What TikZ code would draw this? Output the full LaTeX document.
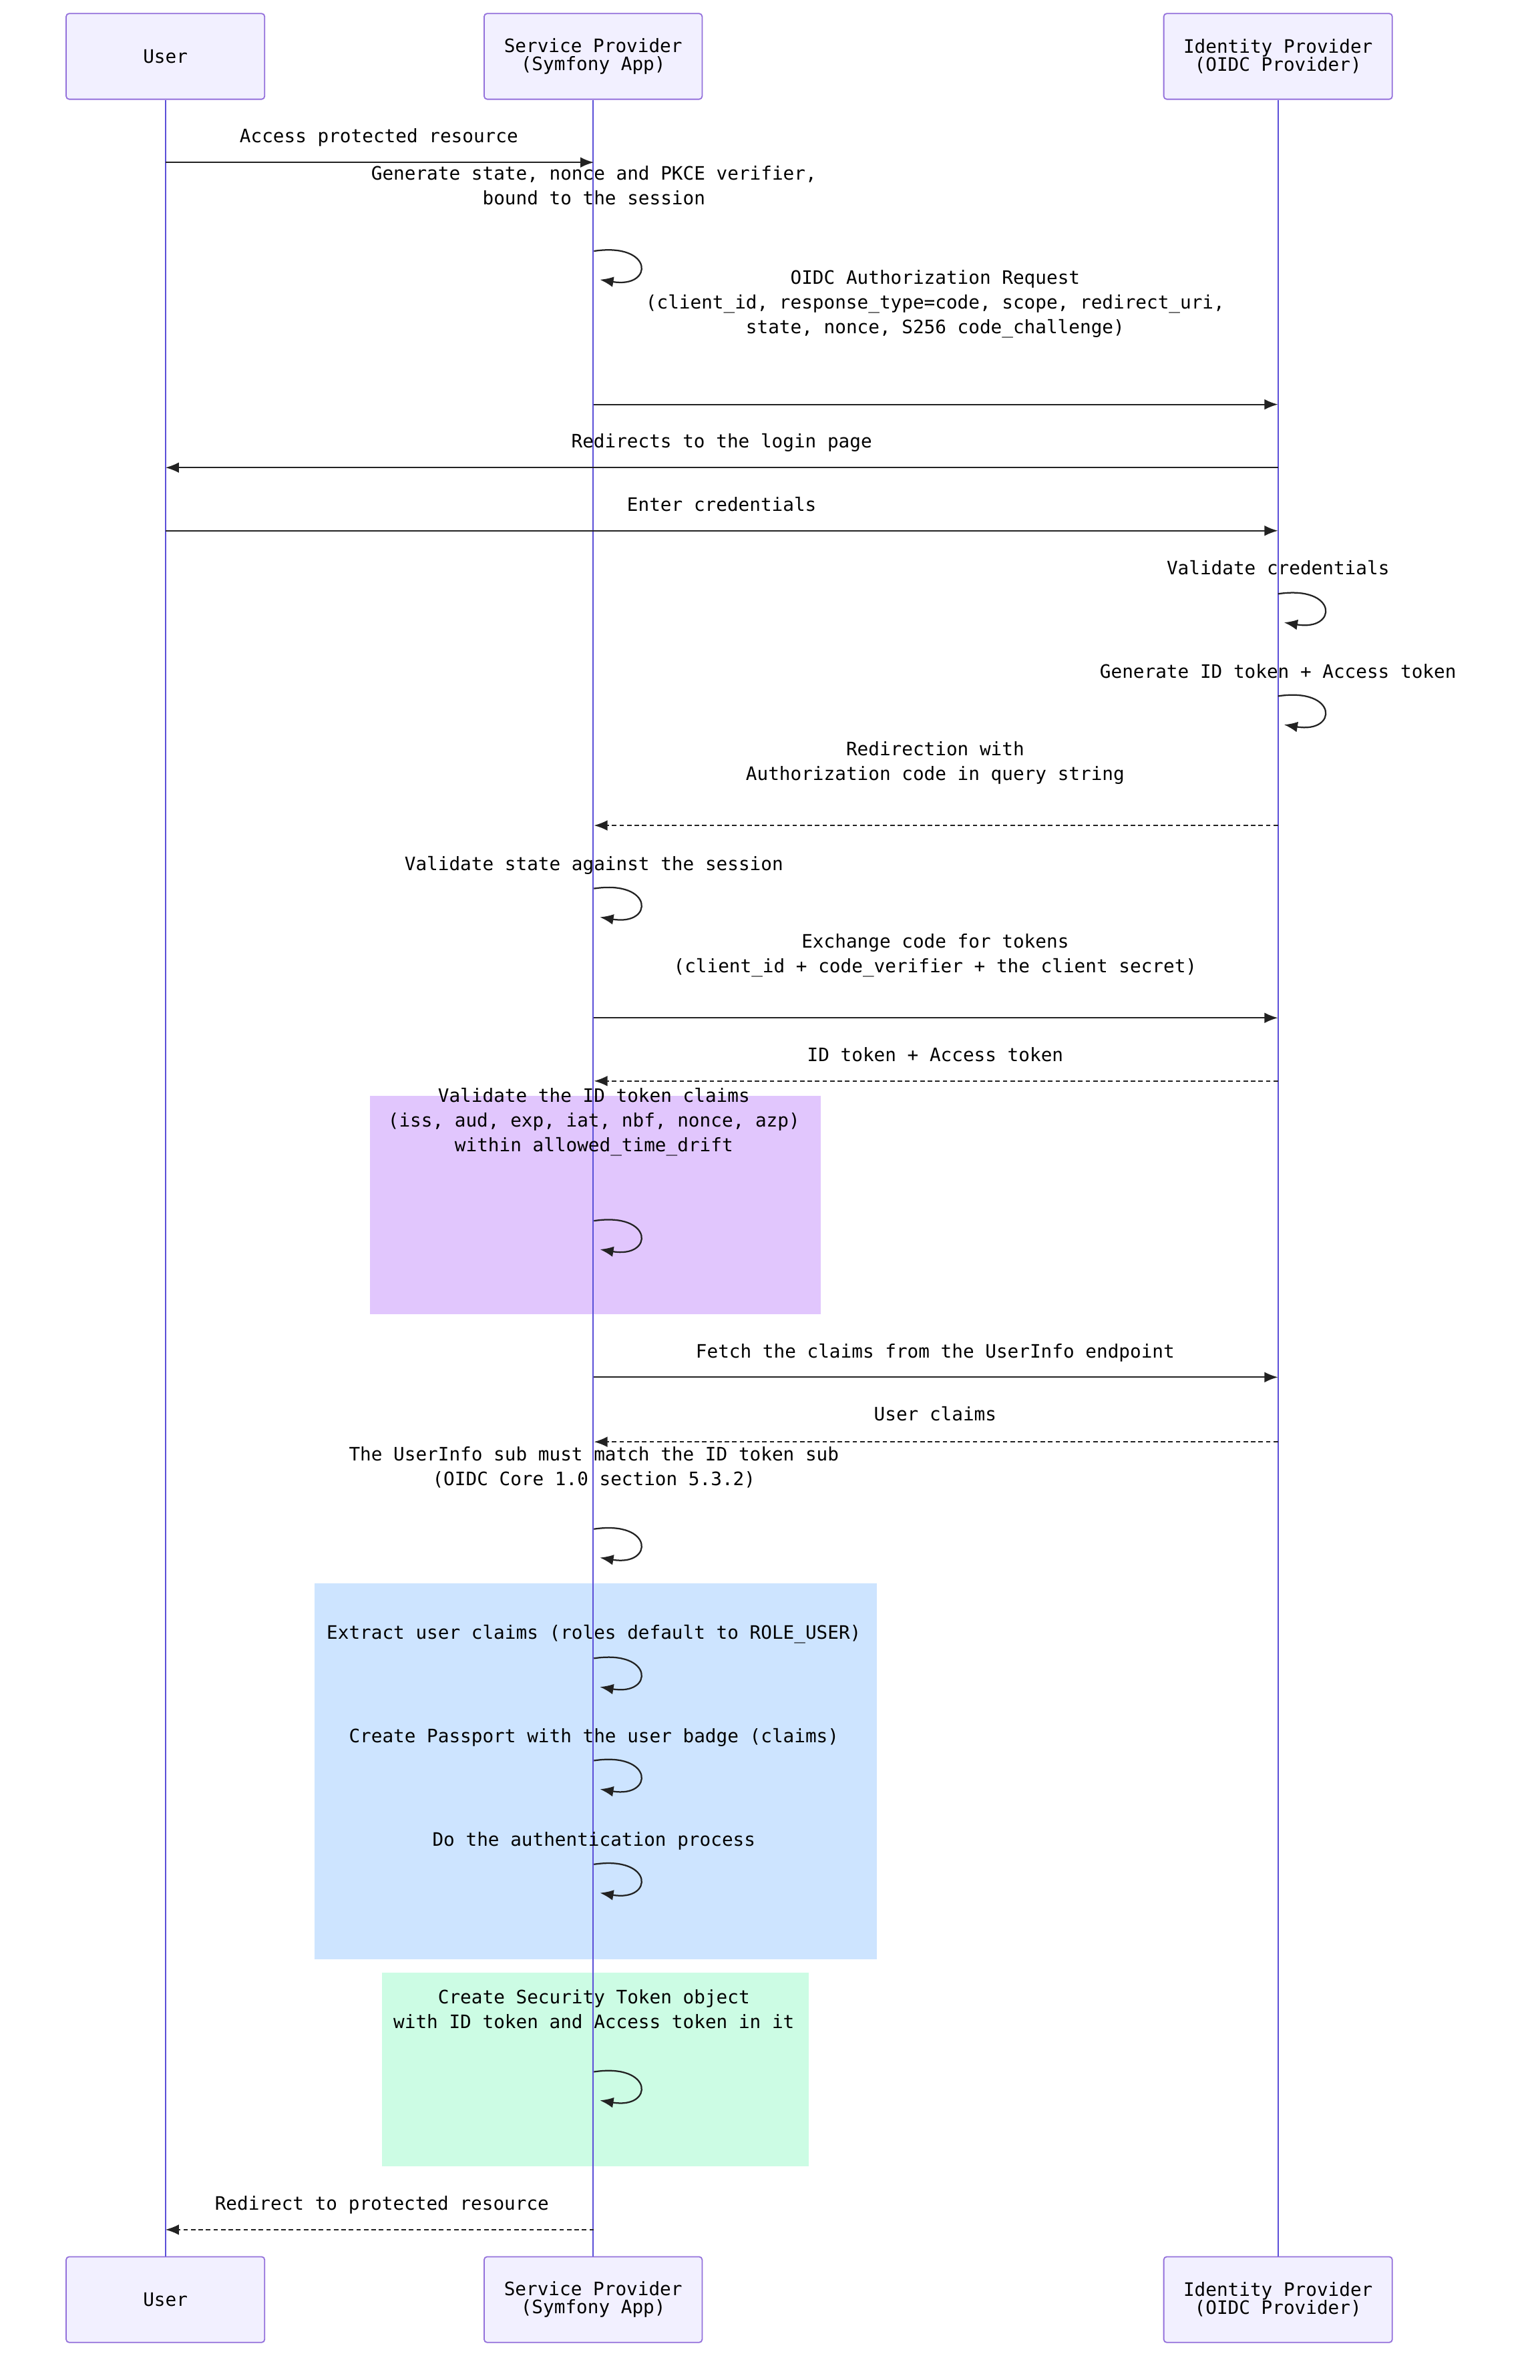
\documentclass[tikz,border=0pt]{standalone}
\usepackage{fontspec}
\setmonofont{DejaVu Sans Mono}
\usetikzlibrary{arrows.meta}
\definecolor{actfill}{HTML}{F2F0FF}
\definecolor{actdraw}{HTML}{9370DB}
\definecolor{life}{HTML}{5B4FD8}
\definecolor{purp}{HTML}{E1C6FD}
\definecolor{blu}{HTML}{CDE4FF}
\definecolor{grn}{HTML}{CCFCE4}
\definecolor{ink}{HTML}{222222}
\tikzset{
 actor/.style={draw=actdraw,fill=actfill,rounded corners=2pt,line width=0.8pt,font=\ttfamily\fontsize{12.3}{12}\selectfont,align=center,inner sep=0pt},
 lbl/.style={font=\ttfamily\fontsize{12.3}{16.5}\selectfont,align=center,text=black,inner sep=0pt,anchor=base},
 msg/.style={draw=ink,line width=1pt,-{Latex[length=9pt,width=7pt]}},
 rmsg/.style={msg,dash pattern=on 3pt off 2pt},
 lifel/.style={draw=life,line width=1pt}
}
\newcommand{\selfloop}[3]{% name, x, y1
 \coordinate (#1a) at (#2,#3); \coordinate (#1b) at (#2+4,#3+19);
 \draw[msg] (#1a) .. controls (#2+40,#3-6) and (#2+40,#3+25) .. (#1b);}
\begin{document}
\begin{tikzpicture}[x=1pt,y=-1pt]
\useasboundingbox (0,0) rectangle (1024,1583);
% notes
\fill[purp] (246,729) rectangle (546,874);
\fill[blu] (209,1053) rectangle (583,1303);
\fill[grn] (254,1312) rectangle (538,1441);
% actors
\node[actor,minimum width=132,minimum height=57] (uT) at (110,37.5) {User};
\node[actor,minimum width=145,minimum height=57] (sT) at (394.5,37.5) {Service Provider\\(Symfony App)};
\node[actor,minimum width=152,minimum height=57] (iT) at (850,37.5) {Identity Provider\\(OIDC Provider)};
\node[actor,minimum width=132,minimum height=57] (uB) at (110,1529.5) {User};
\node[actor,minimum width=145,minimum height=57] (sB) at (394.5,1529.5) {Service Provider\\(Symfony App)};
\node[actor,minimum width=152,minimum height=57] (iB) at (850,1529.5) {Identity Provider\\(OIDC Provider)};
\draw[lifel] (uT) -- (uB);
\draw[lifel] (sT) -- (sB);
\draw[lifel] (iT) -- (iB);
% 1
\coordinate (m1a) at (110,108); \coordinate (m1b) at (395,108);
\node[lbl] (l1) at (252,95) {Access protected resource};
\draw[msg] (m1a) -- (m1b);
% 2
\node[lbl] (l2) at (395,136) {Generate state, nonce and PKCE verifier,\\bound to the session};
\selfloop{s2}{395}{167}
% 3
\node[lbl] (l3) at (622,222) {OIDC Authorization Request\\(client\_id, response\_type=code, scope, redirect\_uri,\\state, nonce, S256 code\_challenge)};
\coordinate (m3a) at (395,269); \coordinate (m3b) at (850,269);
\draw[msg] (m3a) -- (m3b);
% 4
\node[lbl] (l4) at (480,298) {Redirects to the login page};
\coordinate (m4a) at (850,311); \coordinate (m4b) at (110,311);
\draw[msg] (m4a) -- (m4b);
% 5
\node[lbl] (l5) at (480,340) {Enter credentials};
\coordinate (m5a) at (110,353); \coordinate (m5b) at (850,353);
\draw[msg] (m5a) -- (m5b);
% 6
\node[lbl] (l6) at (850,382) {Validate credentials};
\selfloop{s6}{850}{395}
% 7
\node[lbl] (l7) at (850,451) {Generate ID token + Access token};
\selfloop{s7}{850}{463}
% 8
\node[lbl] (l8) at (622,519) {Redirection with\\Authorization code in query string};
\coordinate (m8a) at (850,549); \coordinate (m8b) at (395,549);
\draw[rmsg] (m8a) -- (m8b);
% 9
\node[lbl] (l9) at (395,579) {Validate state against the session};
\selfloop{s9}{395}{591}
% 10
\node[lbl] (l10) at (622,647) {Exchange code for tokens\\(client\_id + code\_verifier + the client secret)};
\coordinate (m10a) at (395,677); \coordinate (m10b) at (850,677);
\draw[msg] (m10a) -- (m10b);
% 11
\node[lbl] (l11) at (622,706) {ID token + Access token};
\coordinate (m11a) at (850,719); \coordinate (m11b) at (395,719);
\draw[rmsg] (m11a) -- (m11b);
% purple
\node[lbl] (l12) at (395,766) {Validate the ID token claims\\(iss, aud, exp, iat, nbf, nonce, azp)\\within allowed\_time\_drift};
\selfloop{s12}{395}{812}
% 13
\node[lbl] (l13) at (622,903) {Fetch the claims from the UserInfo endpoint};
\coordinate (m13a) at (395,916); \coordinate (m13b) at (850,916);
\draw[msg] (m13a) -- (m13b);
% 14
\node[lbl] (l14) at (622,945) {User claims};
\coordinate (m14a) at (850,959); \coordinate (m14b) at (395,959);
\draw[rmsg] (m14a) -- (m14b);
% 15
\node[lbl] (l15) at (395,988) {The UserInfo sub must match the ID token sub\\(OIDC Core 1.0 section 5.3.2)};
\selfloop{s15}{395}{1017}
% blue
\node[lbl] (l16) at (395,1090) {Extract user claims (roles default to ROLE\_USER)};
\selfloop{s16}{395}{1103}
\node[lbl] (l17) at (395,1159) {Create Passport with the user badge (claims)};
\selfloop{s17}{395}{1171}
\node[lbl] (l18) at (395,1228) {Do the authentication process};
\selfloop{s18}{395}{1240}
% green
\node[lbl] (l19) at (395,1349) {Create Security Token object\\with ID token and Access token in it};
\selfloop{s19}{395}{1378}
% 20
\node[lbl] (l20) at (254,1470) {Redirect to protected resource};
\coordinate (m20a) at (395,1483); \coordinate (m20b) at (110,1483);
\draw[rmsg] (m20a) -- (m20b);
\end{tikzpicture}
\end{document}
